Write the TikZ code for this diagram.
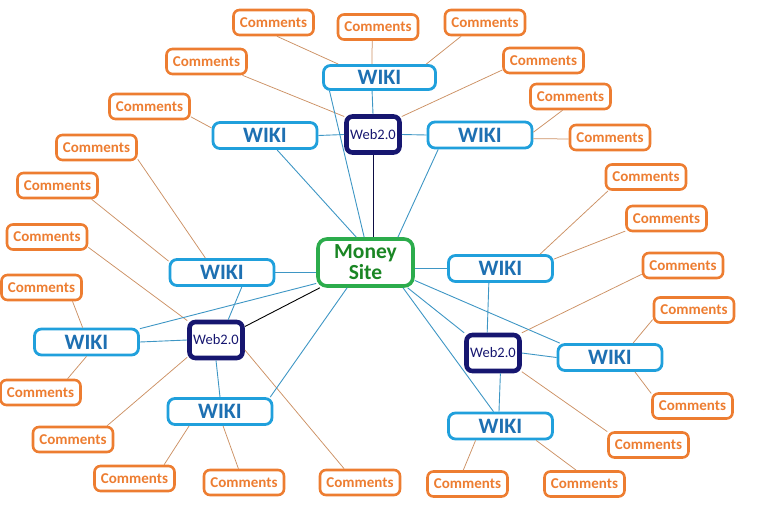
\documentclass[tikz,border=0pt]{standalone}
\usepackage{fontspec}
\setmainfont{Carlito}
\usepackage{xcolor}
\definecolor{cmtorange}{RGB}{237,125,49}
\definecolor{cmtline}{RGB}{204,145,100}
\definecolor{wikiblue}{RGB}{32,160,220}
\definecolor{wikitext}{RGB}{30,112,178}
\definecolor{wikiline}{RGB}{62,150,196}
\definecolor{webnavy}{RGB}{22,22,112}
\definecolor{moneygreen}{RGB}{44,172,76}
\definecolor{moneytext}{RGB}{26,134,36}
\tikzset{
  comment/.style={draw=cmtorange,line width=2.6pt,rounded corners=6pt,fill=white,
    minimum width=80pt,minimum height=25pt,inner sep=0pt,text=cmtorange,
    font=\bfseries\fontsize{15}{15}\selectfont},
  wiki/.style={draw=wikiblue,line width=2.8pt,rounded corners=7pt,fill=white,
    minimum width=104pt,minimum height=26pt,inner sep=0pt,text=wikitext,
    font=\bfseries\fontsize{22}{22}\selectfont},
  webtwo/.style={draw=webnavy,line width=4.6pt,rounded corners=6pt,fill=white,
    minimum width=53pt,minimum height=36pt,inner sep=0pt,text=webnavy,
    font=\fontsize{14.5}{14.5}\selectfont},
  moneybox/.style={draw=moneygreen,line width=3.6pt,rounded corners=9pt,fill=white,
    minimum width=95pt,minimum height=47pt,inner sep=0pt,text=moneytext,align=center,
    font=\bfseries\fontsize{21.5}{21}\selectfont},
  cline/.style={draw=cmtline,line width=0.75pt},
  wline/.style={draw=wikiline,line width=0.9pt},
  dline/.style={draw=webnavy!60!black,line width=0.9pt},
}

\begin{document}
\begin{tikzpicture}[x=1pt,y=-1pt]
  \useasboundingbox (0,0) rectangle (760,530);
  % money site
  \node[moneybox] (money) at (365.5,262.5) {Money\\Site};
  % top cluster
  \node[webtwo] (webT) at (373,134.5) {Web2.0};
  \node[wiki,minimum width=112pt,minimum height=24pt] (wikiT) at (379.5,77.5) {WIKI};
  \node[wiki] (wikiTL) at (265,135.5) {WIKI};
  \node[wiki] (wikiTR) at (480,135) {WIKI};
  \node[comment] (c1) at (273.5,22.5) {Comments};
  \node[comment] (c2) at (378,27) {Comments};
  \node[comment] (c3) at (485,22.5) {Comments};
  \node[comment] (c4) at (206.5,61.5) {Comments};
  \node[comment] (c5) at (543.5,60.5) {Comments};
  \node[comment] (c6) at (570.5,96.5) {Comments};
  \node[comment] (c7) at (610,137.5) {Comments};
  \node[comment] (c8) at (149.5,106.5) {Comments};
  % left cluster
  \node[webtwo] (webL) at (216,340) {Web2.0};
  \node[wiki] (wikiLM) at (222,272.5) {WIKI};
  \node[wiki] (wikiLF) at (86.5,342) {WIKI};
  \node[wiki] (wikiLB) at (220,411.5) {WIKI};
  \node[comment] (c9) at (96.5,147.5) {Comments};
  \node[comment] (c10) at (57.5,185.5) {Comments};
  \node[comment] (c11) at (47,237) {Comments};
  \node[comment] (c12) at (41.5,287.5) {Comments};
  \node[comment] (c13) at (40.5,392.5) {Comments};
  \node[comment] (c14) at (73,439.5) {Comments};
  \node[comment] (c15) at (134.5,478.5) {Comments};
  \node[comment] (c16) at (244,482.5) {Comments};
  \node[comment] (c17) at (360,482.5) {Comments};
  % right cluster
  \node[webtwo] (webR) at (493,353) {Web2.0};
  \node[wiki] (wikiRM) at (500.5,268.5) {WIKI};
  \node[wiki] (wikiRF) at (610,357.5) {WIKI};
  \node[wiki] (wikiRB) at (500.5,426) {WIKI};
  \node[comment] (c18) at (646,177) {Comments};
  \node[comment] (c19) at (666.5,218.5) {Comments};
  \node[comment] (c20) at (683,265.5) {Comments};
  \node[comment] (c21) at (694,310) {Comments};
  \node[comment] (c22) at (692.5,406) {Comments};
  \node[comment] (c23) at (648.5,445) {Comments};
  \node[comment] (c24) at (467.5,484) {Comments};
  \node[comment] (c25) at (584.5,484) {Comments};

  % comment links, top
  \draw[cline] (c1.-76) -- (wikiT.162);
  \draw[cline] (c2.-113) -- (wikiT.119);
  \draw[cline] (c3.-150) -- (wikiT.16.5);
  \draw[cline] (c4.-21) -- (webT.148);
  \draw[cline] (c5.193) -- (webT.32);
  \draw[cline] (c6.-120) -- (wikiTR.3);
  \draw[cline] (c7.182) -- (wikiTR.-4);
  \draw[cline] (c8.-14.5) -- (wikiTL.172);
  % comment links, left
  \draw[cline] (c9.-16) -- (wikiLM.139.5);
  \draw[cline] (c10.-22) -- (wikiLM.168.6);
  \draw[cline] (c11.-14.7) -- (webL.146.8);
  \draw[cline] (c12.-24.4) -- (wikiLF.105);
  \draw[cline] (c13.27.8) -- (wikiLF.south);
  \draw[cline] (c14.22.5) -- (webL.211.3);
  \draw[cline] (c15.25.4) -- (wikiLB.205.8);
  \draw[cline] (c16.112.5) -- (wikiLB.-78.3);
  \draw[cline] (c17.139.5) -- (webL.-19);
  % comment links, right
  \draw[cline] (c18.200.2) -- (wikiRM.20.2);
  \draw[cline] (c19.197.2) -- (wikiRM.10.9);
  \draw[cline] (c20.192.7) -- (webR.35.8);
  \draw[cline] (c21.193.4) -- (wikiRF.32.2);
  \draw[cline] (c22.163) -- (wikiRF.-30.1);
  \draw[cline] (c23.162.2) -- (webR.-33.7);
  \draw[cline] (c24.107.8) -- (wikiRB.210.5);
  \draw[cline] (c25.121.3) -- (wikiRB.-22.3);

  % wiki links, top
  \draw[wline] (wikiT.-119) -- (webT.north);
  \draw[wline] (wikiTL.east) -- (webT.west);
  \draw[wline] (webT.east) -- (wikiTR.west);
  \draw[wline] (wikiT.195.6) -- (money.93.4);
  \draw[wline] (wikiTL.-50.4) -- (money.110.4);
  \draw[wline] (wikiTR.199.7) -- (money.38.1);
  \draw[dline] (webT.south) -- (webT.south |- money.north);
  % wiki links, left
  \draw[wline] (wikiLM.east) -- (wikiLM.east -| money.west);
  \draw[wline] (wikiLM.-36) -- (webL.59);
  \draw[wline] (wikiLF.east) -- (webL.west);
  \draw[wline] (wikiLF.14.5) -- (money.203.3);
  \draw[wline] (webL.south) -- (wikiLB.north);
  \draw[wline] (wikiLB.16.8) -- (money.234.1);
  \draw[draw=black,line width=0.9pt] (webL.25.8) -- (money.209.4);
  % wiki links, right
  \draw[wline] (money.east |- wikiRM.west) -- (wikiRM.west);
  \draw[wline] (wikiRM.231.6) -- (webR.106.7);
  \draw[wline] (webR.east) -- (wikiRF.west);
  \draw[wline] (webR.-70.7) -- (wikiRB.96);
  \draw[wline] (money.-20.5) -- (wikiRF.164.7);
  \draw[wline] (money.-31.6) -- (webR.145.8);
  \draw[wline] (money.-34.9) -- (wikiRB.116.6);
\end{tikzpicture}
\end{document}
